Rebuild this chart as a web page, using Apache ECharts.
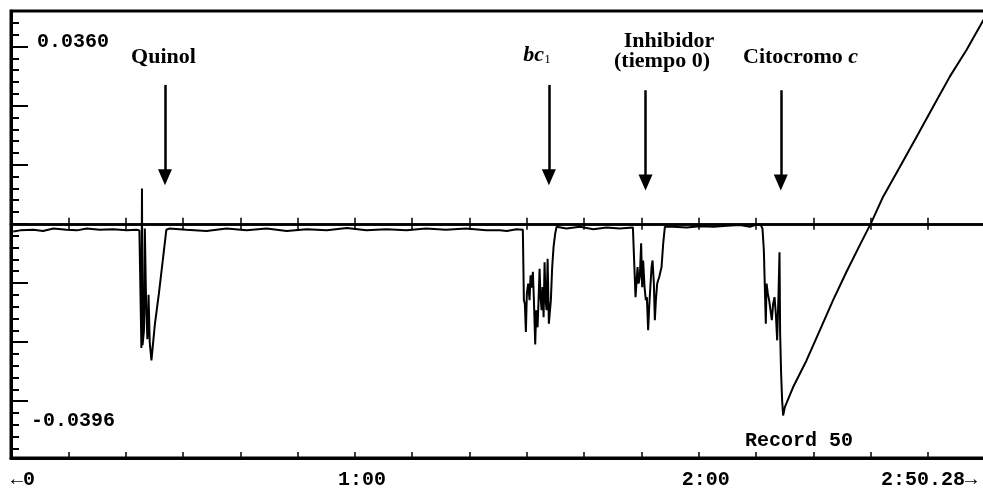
<!DOCTYPE html>
<html>
<head>
<meta charset="utf-8">
<script src="https://cdn.jsdelivr.net/npm/echarts@6/dist/echarts.min.js"></script>
<style>
  html, body { margin: 0; padding: 0; background: #fff; }
  #main { width: 983px; height: 489px; }
</style>
</head>
<body>
<div id="main"></div>
<script>
var timeSec = [
  0.4, 1.6, 3.9, 5.6, 7.4, 9.7, 11.5, 13.2, 15.5, 17.8, 20.2, 21.9, 22.4,
  22.6, 22.75, 22.85, 22.95, 23.2, 23.35, 23.6, 23.8, 24.0, 24.2, 24.5, 25.1, 25.8, 26.5, 27.1, 27.6,
  30.6, 34.1, 37.6, 41.1, 44.6, 48.1, 51.6, 55.1, 58.6, 62.0, 65.5, 69.0, 72.4, 75.9, 79.4, 82.9, 85.3, 86.5, 88.2, 89.3,
  89.48, 89.65, 89.83, 90.0, 90.23, 90.47, 90.65, 90.82, 91.05, 91.23, 91.46, 91.63, 91.87, 92.04, 92.22,
  92.39, 92.57, 92.74, 92.92, 93.09, 93.27, 93.44, 93.62, 93.84, 94.02, 94.19, 94.42, 94.66, 94.95, 95.19,
  96.9, 99.25, 101.6, 103.9, 106.2, 108.5, 108.84,
  108.96, 109.14, 109.31, 109.49, 109.71, 109.94, 110.12, 110.29, 110.53, 110.76, 110.94, 111.16, 111.34,
  111.58, 111.76, 111.93, 112.16, 112.33, 112.51, 112.74, 113.09, 113.5, 113.79, 114.08, 114.37,
  115.5, 117.9, 120.2, 122.6, 124.9, 127.2, 128.9, 130.1, 130.77,
  131.11, 131.35, 131.52, 131.69, 131.82, 132.05, 132.27, 132.51, 132.74, 132.97, 133.21, 133.44, 133.67,
  133.91, 134.08, 134.19, 134.36, 134.54, 134.71, 135.01, 136.46, 138.79, 141.11, 143.43, 145.77, 148.09,
  150.13, 152.16, 155.07, 157.98, 160.88, 163.79, 166.7, 169.49, 170.2
];
var absorb = [
  -0.0013, -0.0011, -0.0010, -0.0012, -0.0008, -0.0010, -0.0011, -0.0008, -0.0010, -0.0009, -0.0011, -0.0010, -0.0011,
  -0.0013, -0.0210, 0.0060, -0.0205, -0.0180, -0.0008, -0.0150, -0.0195, -0.0120, -0.0200, -0.0231, -0.0170, -0.0118, -0.0060, -0.0010, -0.0008,
  -0.0010, -0.0012, -0.0008, -0.0011, -0.0008, -0.0012, -0.0009, -0.0011, -0.0007, -0.0011, -0.0009, -0.0011, -0.0008, -0.0010, -0.0008, -0.0011, -0.0011, -0.0012, -0.0009, -0.0010,
  -0.0129, -0.0135, -0.0183, -0.0118, -0.0101, -0.0129, -0.0087, -0.0108, -0.0081, -0.0129, -0.0204, -0.0146, -0.0175, -0.0129, -0.0076,
  -0.0124, -0.0146, -0.0107, -0.0158, -0.0065, -0.0129, -0.0146, -0.0059, -0.0169, -0.0172, -0.0129, -0.0073, -0.0039, -0.0016, -0.0005,
  -0.0008, -0.0005, -0.0009, -0.0006, -0.0008, -0.0006, -0.0008,
  -0.0124, -0.0124, -0.0073, -0.0101, -0.0090, -0.0033, -0.0107, -0.0062, -0.0107, -0.0129, -0.0124, -0.0180, -0.0141,
  -0.0101, -0.0073, -0.0062, -0.0101, -0.0163, -0.0129, -0.0101, -0.0090, -0.0073, -0.0033, -0.0005, -0.0004,
  -0.0005, -0.0006, -0.0004, -0.0005, -0.0003, -0.0002, -0.0005, -0.0001, -0.0001,
  -0.0008, -0.0045, -0.0107, -0.0169, -0.0101, -0.0118, -0.0129, -0.0146, -0.0163, -0.0135, -0.0124, -0.0152, -0.0197,
  -0.0118, -0.0048, -0.0186, -0.0253, -0.0299, -0.0324, -0.0310, -0.0276, -0.0231, -0.0180, -0.0129, -0.0081, -0.0036,
  0.0003, 0.0046, 0.0096, 0.0147, 0.0198, 0.0249, 0.0294, 0.0342, 0.0353
];

// flechas de adicion
var arrowTimes = [26.86, 93.84, 110.7, 134.3];
var arrowTop = [0.0235, 0.0235, 0.0226, 0.0226];
var arrowEnd = [0.0079, 0.0079, 0.0070, 0.0070];

// ejes
var yMin = -0.0396;
var yMax = 0.0360;
var xMax = 170.28;
var yMajorTicks = [-0.03, -0.02, -0.01, 0, 0.01, 0.02, 0.03];
var yMinorTicks = [-0.038, -0.036, -0.034, -0.032, -0.028, -0.026, -0.024, -0.022, -0.018, -0.016, -0.014, -0.012,
  -0.008, -0.006, -0.004, -0.002, 0.002, 0.004, 0.006, 0.008, 0.012, 0.014, 0.016, 0.018, 0.022, 0.024, 0.026, 0.028, 0.032, 0.034];
var xTicks = [10, 20, 30, 40, 50, 60, 70, 80, 90, 100, 110, 120, 130, 140, 150, 160, 170];
var xLabelValues = [0, 60, 120, 170.28];
var xLabelTexts = ['←0', '1:00', '2:00', '2:50.28→'];

var mono = '"Liberation Mono", "DejaVu Sans Mono", monospace';
var serif = '"Liberation Serif", "DejaVu Serif", serif';

var traceData = [];
for (var i = 0; i < timeSec.length; i++) {
  traceData.push([timeSec[i], absorb[i]]);
}

var arrowLines = [];
for (var j = 0; j < arrowTimes.length; j++) {
  arrowLines.push([{ coord: [arrowTimes[j], arrowTop[j]] }, { coord: [arrowTimes[j], arrowEnd[j]] }]);
}

function zeroAxis(inside) {
  return {
    type: 'value', min: 0, max: xMax, position: 'bottom',
    axisLine: { show: true, onZero: true, onZeroAxisIndex: 0, lineStyle: { color: '#000', width: 2.5 } },
    axisTick: { show: true, inside: inside, length: 6, customValues: xTicks, lineStyle: { color: '#000', width: 1.5 } },
    axisLabel: { show: false },
    splitLine: { show: false }
  };
}

var myChart = echarts.init(document.getElementById('main'));
myChart.setOption({
  animation: false,
  backgroundColor: '#fff',
  grid: {
    left: 11, right: -4, top: 11, bottom: 31,
    outerBoundsMode: 'none',
    show: true, borderColor: '#000', borderWidth: 3
  },
  xAxis: [
    {
      type: 'value', min: 0, max: xMax, position: 'bottom',
      axisLine: { show: true, onZero: false, lineStyle: { color: '#000', width: 3 } },
      axisTick: { show: true, inside: true, length: 6, customValues: xTicks, lineStyle: { color: '#000', width: 1.5 } },
      axisLabel: {
        show: true, customValues: xLabelValues, margin: 12,
        alignMinLabel: 'left', alignMaxLabel: 'right',
        formatter: function (v) {
          var k = xLabelValues.indexOf(v);
          if (k === 0) return '{a|' + xLabelTexts[k] + '}';
          if (k === xLabelValues.length - 1) return '{z|' + xLabelTexts[k] + '}';
          return '{c|' + xLabelTexts[k] + '}';
        },
        rich: {
          a: { fontFamily: mono, fontWeight: 'bold', fontSize: 20, color: '#000' },
          c: { fontFamily: mono, fontWeight: 'bold', fontSize: 20, color: '#000', padding: [0, 0, 0, 14] },
          z: { fontFamily: mono, fontWeight: 'bold', fontSize: 20, color: '#000', padding: [0, 10, 0, 0] }
        }
      },
      splitLine: { show: false }
    },
    zeroAxis(true),
    zeroAxis(false)
  ],
  yAxis: [
    {
      type: 'value', min: yMin, max: yMax, position: 'left',
      axisLine: { show: true, onZero: false, lineStyle: { color: '#000', width: 3 } },
      axisTick: { show: true, inside: true, length: 17, customValues: yMajorTicks, lineStyle: { color: '#000', width: 2 } },
      axisLabel: { show: false },
      splitLine: { show: false }
    },
    {
      type: 'value', min: yMin, max: yMax, position: 'left',
      axisLine: { show: false, onZero: false },
      axisTick: { show: true, inside: true, length: 8, customValues: yMinorTicks, lineStyle: { color: '#000', width: 2 } },
      axisLabel: { show: false },
      splitLine: { show: false }
    }
  ],
  series: [{
    name: 'Absorbancia',
    type: 'line',
    xAxisIndex: 0,
    yAxisIndex: 0,
    data: traceData,
    symbol: 'none',
    lineStyle: { color: '#000', width: 2 },
    z: 5,
    markLine: {
      silent: true,
      symbol: ['none', 'triangle'],
      symbolSize: [14, 16],
      label: { show: false },
      lineStyle: { color: '#000', width: 2.5, type: 'solid' },
      data: arrowLines
    }
  }],
  graphic: [
    { type: 'text', x: 37, y: 41.5, style: { text: '0.0360', font: 'bold 20px ' + mono, fill: '#000', align: 'left', verticalAlign: 'middle' } },
    { type: 'text', x: 31, y: 421, style: { text: '-0.0396', font: 'bold 20px ' + mono, fill: '#000', align: 'left', verticalAlign: 'middle' } },
    { type: 'text', x: 745, y: 441, style: { text: 'Record 50', font: 'bold 20px ' + mono, fill: '#000', align: 'left', verticalAlign: 'middle' } },
    { type: 'text', x: 163.5, y: 57, style: { text: 'Quinol', font: 'bold 22px ' + serif, fill: '#000', align: 'center', verticalAlign: 'middle' } },
    {
      type: 'text', x: 537, y: 55,
      style: {
        text: '{i|bc}{s|1}', align: 'center', verticalAlign: 'middle', fill: '#000',
        rich: {
          i: { fontFamily: serif, fontStyle: 'italic', fontWeight: 'bold', fontSize: 22, fill: '#000' },
          s: { fontFamily: serif, fontSize: 13, fill: '#000', verticalAlign: 'bottom' }
        }
      }
    },
    { type: 'text', x: 669, y: 41.5, style: { text: 'Inhibidor', font: 'bold 22px ' + serif, fill: '#000', align: 'center', verticalAlign: 'middle' } },
    { type: 'text', x: 662, y: 61, style: { text: '(tiempo 0)', font: 'bold 22px ' + serif, fill: '#000', align: 'center', verticalAlign: 'middle' } },
    {
      type: 'text', x: 743, y: 57,
      style: {
        text: '{r|Citocromo }{i|c}', align: 'left', verticalAlign: 'middle', fill: '#000',
        rich: {
          r: { fontFamily: serif, fontWeight: 'bold', fontSize: 22, fill: '#000' },
          i: { fontFamily: serif, fontStyle: 'italic', fontWeight: 'bold', fontSize: 22, fill: '#000' }
        }
      }
    }
  ]
});
</script>
</body>
</html>
